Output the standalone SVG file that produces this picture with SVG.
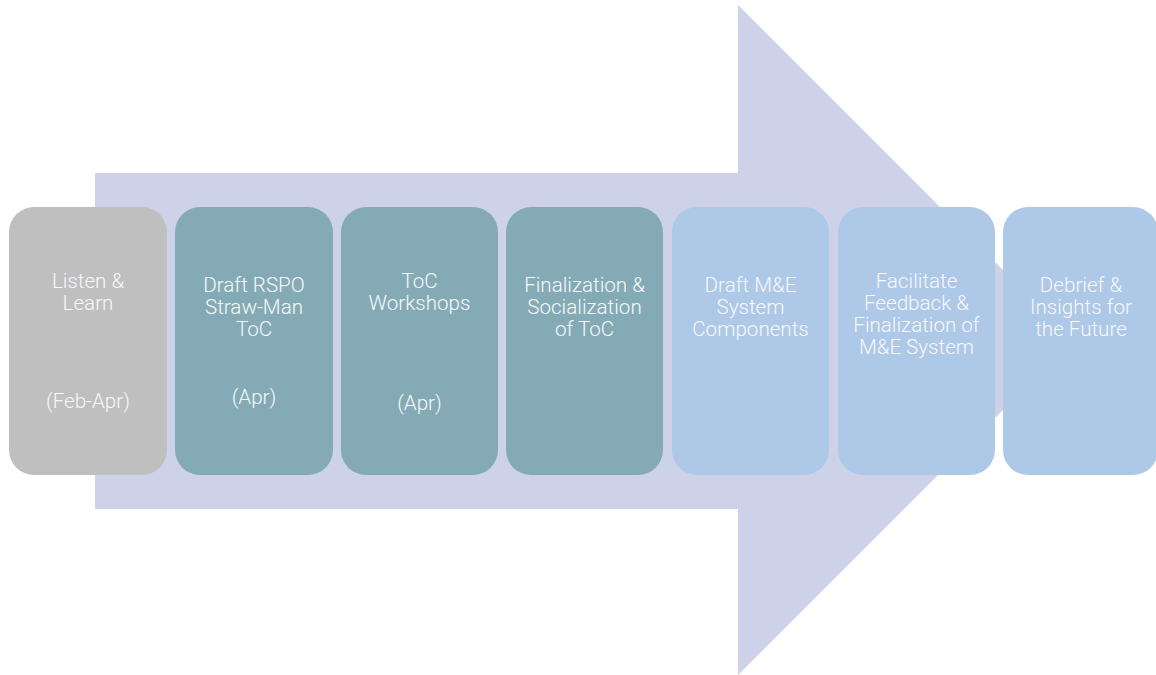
<svg xmlns="http://www.w3.org/2000/svg" width="1156" height="675" viewBox="0 0 1156 675">
  <style>
    .step { stroke: none; }
    .grey { fill: #BFBFBF; }
    .teal { fill: #84ABB5; }
    .blue { fill: #AEC8E7; }
    .label { font-family: Roboto, "Liberation Sans", sans-serif; font-weight: 300; font-size: 20.6px; fill: #F7F8FA; text-anchor: middle; }
  </style>

  <!-- background process arrow -->
  <g id="connectors">
    <path d="M95,173 H738 V5 L1073,340 L738,675 V509 H95 Z" fill="#CDD2E8"/>
  </g>

  <g id="step-listen">
    <rect class="step grey" x="9" y="207" width="158" height="268" rx="25"/>
    <text class="label" x="88" y="288">Listen &amp;</text>
    <text class="label" x="88" y="310">Learn</text>
    <text class="label" x="88" y="408">(Feb-Apr)</text>
  </g>

  <g id="step-strawman">
    <rect class="step teal" x="175" y="207" width="158" height="268" rx="25"/>
    <text class="label" x="254" y="292">Draft RSPO</text>
    <text class="label" x="254" y="314">Straw-Man</text>
    <text class="label" x="254" y="336">ToC</text>
    <text class="label" x="254" y="404">(Apr)</text>
  </g>

  <g id="step-workshops">
    <rect class="step teal" x="341" y="207" width="157" height="268" rx="25"/>
    <text class="label" x="419.5" y="288">ToC</text>
    <text class="label" x="419.5" y="310">Workshops</text>
    <text class="label" x="419.5" y="410">(Apr)</text>
  </g>

  <g id="step-finalization">
    <rect class="step teal" x="506" y="207" width="157" height="268" rx="25"/>
    <text class="label" x="584.5" y="292">Finalization &amp;</text>
    <text class="label" x="584.5" y="314">Socialization</text>
    <text class="label" x="584.5" y="336">of ToC</text>
  </g>

  <g id="step-me-draft">
    <rect class="step blue" x="672" y="207" width="157" height="268" rx="25"/>
    <text class="label" x="750.5" y="292">Draft M&amp;E</text>
    <text class="label" x="750.5" y="314">System</text>
    <text class="label" x="750.5" y="336">Components</text>
  </g>

  <g id="step-feedback">
    <rect class="step blue" x="838" y="207" width="157" height="268" rx="25"/>
    <text class="label" x="916.5" y="288">Facilitate</text>
    <text class="label" x="916.5" y="310">Feedback &amp;</text>
    <text class="label" x="916.5" y="332">Finalization of</text>
    <text class="label" x="916.5" y="354">M&amp;E System</text>
  </g>

  <g id="step-debrief">
    <rect class="step blue" x="1003" y="207" width="155" height="268" rx="25"/>
    <text class="label" x="1081" y="292">Debrief &amp;</text>
    <text class="label" x="1081" y="314">Insights for</text>
    <text class="label" x="1081" y="336">the Future</text>
  </g>
</svg>
